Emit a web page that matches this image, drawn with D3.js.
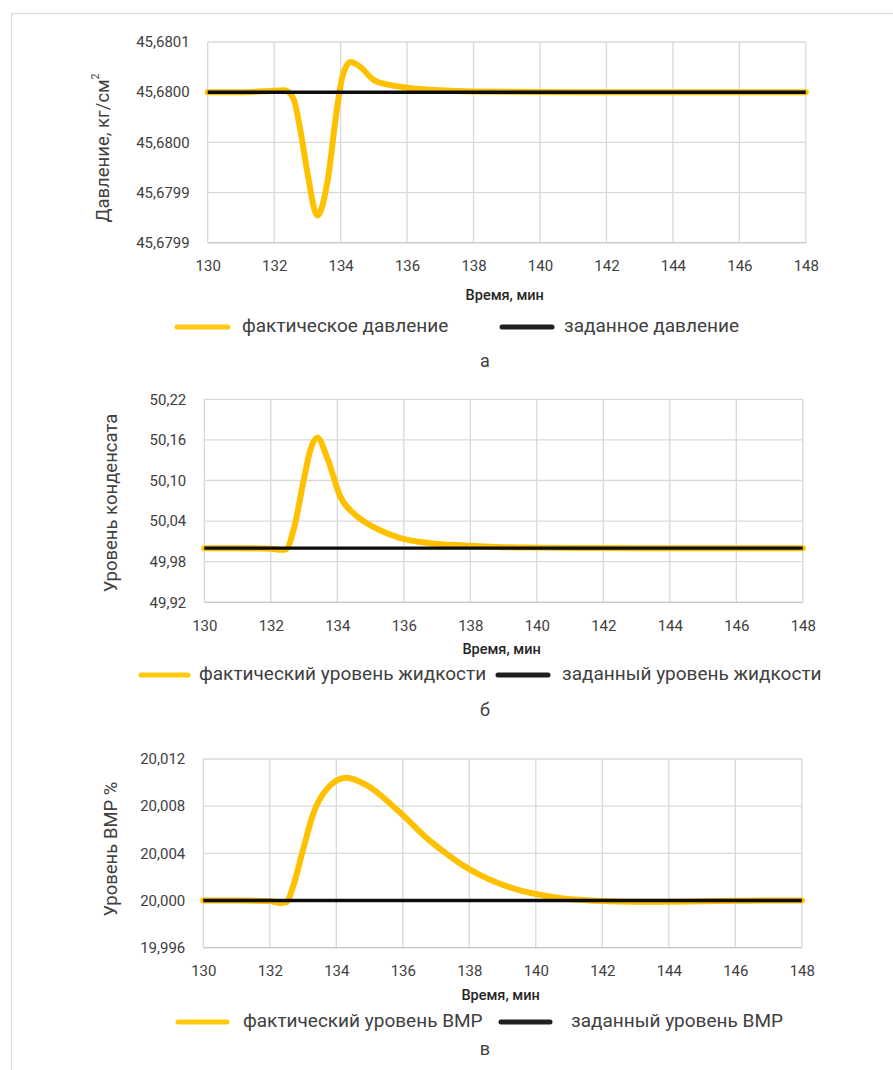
<!DOCTYPE html>
<html><head><meta charset="utf-8">
<script src="https://cdn.jsdelivr.net/npm/d3@7"></script>
<style>
html,body{margin:0;padding:0;background:#fff;}
svg{display:block;font-family:Roboto,"Noto Sans",sans-serif;}
</style></head>
<body>
<svg id="c" width="893" height="1070"></svg>
<script>
// ---------- data ----------
const xTicks = [130,132,134,136,138,140,142,144,146,148];
const xTickLabels = ["130","132","134","136","138","140","142","144","146","148"];
const setTime = [130, 148];

// (a) pressure
const pressureTime = [130,131,131.8,132.3,132.5,132.6,132.8,133.0,133.3,133.6,133.9,134.05,134.3,134.6,135.0,135.5,136,137,138,140,142,144,146,148];
const pressureActual = [45.68,45.68,45.680001,45.680002,45.679998,45.679992,45.67996,45.67992,45.679877,45.67991,45.679986,45.680015,45.68003,45.680025,45.680012,45.680007,45.6800045,45.6800018,45.6800006,45.6800001,45.68,45.68,45.68,45.68];
const pressureSet = [45.68, 45.68];
const pressureTicks = [45.67985,45.6799,45.67995,45.68,45.68005];
const pressureTickLabels = ["45,6799","45,6799","45,6800","45,6800","45,6801"];

// (б) condensate level
const levelTime = [130,131,132,132.3,132.45,132.7,133.0,133.2,133.4,133.7,134.1,134.5,135.1,135.9,136.8,137.8,139,140,142,144,146,148];
const levelActual = [50,50,49.999,49.9975,49.998,50.03,50.103,50.147,50.163,50.133,50.075,50.051,50.031,50.015,50.0074,50.004,50.0015,50.0008,50.0002,50,50,50];
const levelSet = [50, 50];
const levelTicks = [49.92,49.98,50.04,50.10,50.16,50.22];
const levelTickLabels = ["49,92","49,98","50,04","50,10","50,16","50,22"];

// (в) VMR level
const vmrTime = [130,131,132,132.3,132.5,132.7,133.0,133.3,133.7,134.3,134.9,135.9,136.8,137.3,137.8,138.3,138.9,139.5,140,140.7,141.3,142,143,144,145,146,147,148];
const vmrActual = [20,20,19.99995,19.9998,19.99985,20.0012,20.0043,20.0073,20.0094,20.0104,20.0098,20.0075,20.0051,20.0040,20.0030,20.0022,20.00145,20.00088,20.00055,20.00022,20.00006,19.99995,19.99989,19.9999,19.99994,19.99998,20,20];
const vmrSet = [20, 20];
const vmrTicks = [19.996,20.0,20.004,20.008,20.012];
const vmrTickLabels = ["19,996","20,000","20,004","20,008","20,012"];

// ---------- drawing ----------
const svg = d3.select("#c");
const YELLOW = "#FFC000", BLACK = "#0d0d0d", GRID = "#d9d9d9", TXT = "#404040";

// outer frame
svg.append("rect").attr("x",11.5).attr("y",13.5).attr("width",900).attr("height",1100)
  .attr("fill","none").attr("stroke","#dcdcdc").attr("stroke-width",1.2);

function drawChart(o){
  const g = svg.append("g");
  const x = d3.scaleLinear().domain([130,148]).range([o.left,o.right]);
  const y = d3.scaleLinear().domain([o.yTicks[0], o.yTicks[o.yTicks.length-1]]).range([o.bottom,o.top]);

  // grid
  g.append("g").selectAll("line").data(o.yTicks).join("line")
    .attr("x1",o.left).attr("x2",o.right).attr("y1",d=>y(d)).attr("y2",d=>y(d))
    .attr("stroke",GRID).attr("stroke-width",1.3);
  g.append("g").selectAll("line").data(xTicks).join("line")
    .attr("x1",d=>x(d)).attr("x2",d=>x(d)).attr("y1",o.top).attr("y2",o.bottom)
    .attr("stroke",GRID).attr("stroke-width",1.3);
  g.append("line").attr("x1",o.left).attr("x2",o.right).attr("y1",o.bottom).attr("y2",o.bottom)
    .attr("stroke","#c8c8c8").attr("stroke-width",1.3);

  // axes labels via d3 axes
  const xAxis = d3.axisBottom(x).tickValues(xTicks).tickFormat((d,i)=>xTickLabels[i]).tickSize(0).tickPadding(0);
  const xa = g.append("g").attr("transform",`translate(0,${o.bottom+18})`).call(xAxis);
  xa.select(".domain").remove();
  xa.selectAll("text").attr("font-size",15).attr("fill",TXT).attr("font-family","Roboto");

  const yAxis = d3.axisLeft(y).tickValues(o.yTicks).tickFormat((d,i)=>o.yLabels[i]).tickSize(0).tickPadding(18);
  const ya = g.append("g").attr("transform",`translate(${o.left},0)`).call(yAxis);
  ya.select(".domain").remove();
  ya.selectAll("text").attr("font-size",15).attr("fill",TXT).attr("font-family","Roboto");

  // lines
  const line = d3.line().x(d=>x(d[0])).y(d=>y(d[1]));
  g.append("path").datum(o.time.map((t,i)=>[t,o.actual[i]]))
    .attr("d", line.curve(d3.curveMonotoneX)).attr("fill","none").attr("stroke",YELLOW)
    .attr("stroke-width",6).attr("stroke-linejoin","round").attr("stroke-linecap","round");
  g.append("path").datum(setTime.map((t,i)=>[t,o.set[i]]))
    .attr("d", d3.line().x(d=>x(d[0])).y(d=>y(d[1]))).attr("fill","none").attr("stroke",BLACK)
    .attr("stroke-width",3.4);

  // x title
  g.append("text").attr("x",(o.left+o.right)/2 - 2).attr("y",o.xTitleY).attr("text-anchor","middle")
    .attr("dominant-baseline","middle").attr("font-size",14.5).attr("font-weight",500).attr("fill","#262626")
    .text("Время, мин");

  // y title
  const yt = g.append("text").attr("transform",`translate(${o.yTitleX},${o.yTitleY}) rotate(-90)`)
    .attr("text-anchor","middle").attr("dominant-baseline","middle").attr("font-size",18.5).attr("fill",TXT);
  yt.append("tspan").text(o.yTitle);
  if(o.yTitleSup){ yt.append("tspan").attr("font-size",10).attr("dy",-8).text(o.yTitleSup); }

  // legend
  const L = o.legend;
  g.append("line").attr("x1",L.y1[0]).attr("x2",L.y1[1]).attr("y1",L.y).attr("y2",L.y)
    .attr("stroke","#FFC90E").attr("stroke-width",5).attr("stroke-linecap","round");
  g.append("text").attr("x",L.t1).attr("y",L.y).attr("dominant-baseline","middle").attr("font-size",19)
    .attr("fill",TXT).text(L.s1);
  g.append("line").attr("x1",L.b1[0]).attr("x2",L.b1[1]).attr("y1",L.y).attr("y2",L.y)
    .attr("stroke","#1f1f1f").attr("stroke-width",5).attr("stroke-linecap","round");
  g.append("text").attr("x",L.t2).attr("y",L.y).attr("dominant-baseline","middle").attr("font-size",19)
    .attr("fill",TXT).text(L.s2);

  // sub label
  g.append("text").attr("x",485).attr("y",o.subY).attr("text-anchor","middle").attr("dominant-baseline","middle")
    .attr("font-size",18).attr("fill",TXT).text(o.sub);
}

drawChart({left:207.7,right:805.8,top:42,bottom:242.7,
  yTicks:pressureTicks,yLabels:pressureTickLabels,time:pressureTime,actual:pressureActual,set:pressureSet,
  xTitleY:296,yTitleX:104,yTitleY:148,yTitle:"Давление, кг/см",yTitleSup:"2",
  legend:{y:327,y1:[177,228],t1:242,b1:[502,552],t2:564,s1:"фактическое давление",s2:"заданное давление"},
  sub:"а",subY:362});

drawChart({left:204.3,right:802.8,top:399.3,bottom:602.3,
  yTicks:levelTicks,yLabels:levelTickLabels,time:levelTime,actual:levelActual,set:levelSet,
  xTitleY:650,yTitleX:112,yTitleY:503,yTitle:"Уровень конденсата",
  legend:{y:675,y1:[141,188],t1:199,b1:[498,548],t2:562,s1:"фактический уровень жидкости",s2:"заданный уровень жидкости"},
  sub:"б",subY:711});

drawChart({left:203.3,right:801.8,top:759,bottom:947.7,
  yTicks:vmrTicks,yLabels:vmrTickLabels,time:vmrTime,actual:vmrActual,set:vmrSet,
  xTitleY:996,yTitleX:112,yTitleY:849,yTitle:"Уровень ВМР %",
  legend:{y:1022,y1:[178,227],t1:243,b1:[501,550],t2:571,s1:"фактический уровень ВМР",s2:"заданный уровень ВМР"},
  sub:"в",subY:1050});
</script>
</body></html>
